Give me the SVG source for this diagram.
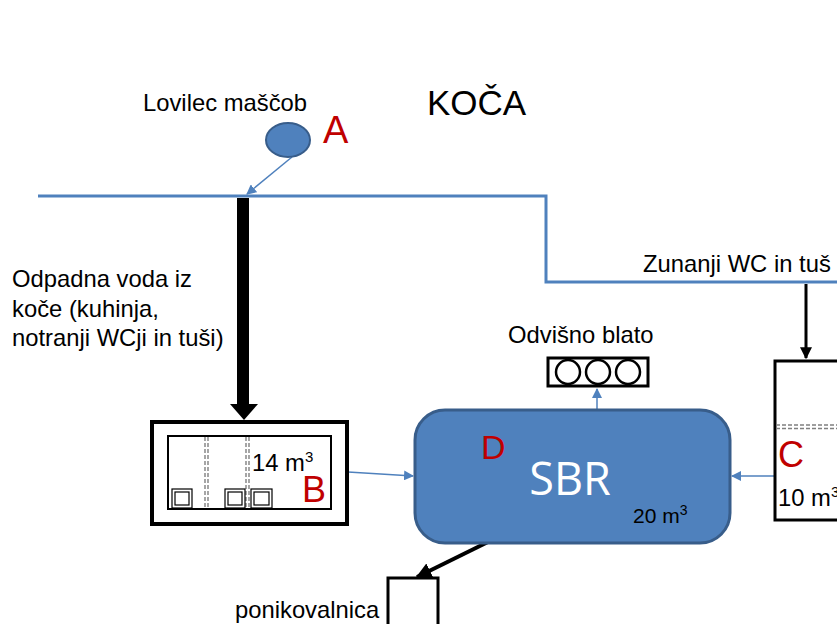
<svg xmlns="http://www.w3.org/2000/svg" width="837" height="624" viewBox="0 0 837 624">
<defs>
<style>
.t{font-family:"Liberation Sans",Arial,sans-serif;font-size:23.8px;fill:#000}
.red{font-family:"Liberation Sans",Arial,sans-serif;fill:#c00000}
.blk{fill:none;stroke:#000}
.pipe{fill:none;stroke:#4f81bd;stroke-width:3}
.bl{fill:none;stroke:#4f81bd;stroke-width:1.5}
.dash{stroke:#808080;stroke-width:1.4;stroke-dasharray:4 2;fill:none}
</style>
<marker id="ab" viewBox="0 0 10 10" refX="9" refY="5" markerWidth="10" markerHeight="10" markerUnits="userSpaceOnUse" orient="auto"><path d="M0,0L10,5L0,10z" fill="#4f81bd"/></marker>
<marker id="ak" viewBox="0 0 10 10" refX="9" refY="5" markerWidth="4" markerHeight="4" orient="auto"><path d="M0,0L10,5L0,10z" fill="#000"/></marker>
</defs>
<rect width="837" height="624" fill="#fff"/>
<text class="t" x="427" y="115" style="font-size:35px">KOČA</text>
<g id="connectors">
<polyline class="pipe" points="38,196 546,196 546,282 837,282"/>
<line class="bl" x1="292" y1="157" x2="247" y2="194" marker-end="url(#ab)"/>
<line x1="243" y1="198" x2="243" y2="405" stroke="#000" stroke-width="12"/>
<path d="M230,404L258,404L244,420z" fill="#000"/>
<line class="bl" x1="348" y1="472" x2="413" y2="476" marker-end="url(#ab)"/>
<line class="bl" x1="597" y1="409" x2="597" y2="389" marker-end="url(#ab)"/>
<line class="bl" x1="775" y1="476" x2="732" y2="476" marker-end="url(#ab)"/>
<line x1="806" y1="284" x2="806" y2="358" stroke="#000" stroke-width="3" marker-end="url(#ak)"/>
<line x1="492" y1="540" x2="417" y2="577" stroke="#000" stroke-width="4" marker-end="url(#ak)"/>
</g>
<g id="A">
<text class="t" x="143" y="111">Lovilec maščob</text>
<ellipse cx="288" cy="140" rx="22" ry="17" fill="#4f81bd" stroke="#385d8a" stroke-width="2"/>
<text class="red" x="323" y="143" font-size="38">A</text>
</g>
<g id="label-inside">
<text class="t"><tspan x="12" y="287">Odpadna voda iz</tspan><tspan x="12" y="317">koče (kuhinja,</tspan><tspan x="12" y="346">notranji WCji in tuši)</tspan></text>
</g>
<g id="B">
<rect class="blk" x="152" y="422" width="195" height="102" stroke-width="4"/>
<rect class="blk" x="168" y="436" width="163" height="73" stroke-width="2"/>
<line class="dash" x1="205" y1="437" x2="205" y2="508"/>
<line class="dash" x1="208" y1="437" x2="208" y2="508"/>
<line class="dash" x1="246" y1="437" x2="246" y2="508"/>
<line class="dash" x1="249" y1="437" x2="249" y2="508"/>
<rect class="blk" x="172" y="489" width="20" height="19" stroke-width="1.2"/>
<rect class="blk" x="175" y="492" width="14" height="13" stroke-width="1.2"/>
<rect class="blk" x="225" y="489" width="20" height="19" stroke-width="1.2"/>
<rect class="blk" x="228" y="492" width="14" height="13" stroke-width="1.2"/>
<rect class="blk" x="251" y="489" width="21" height="19" stroke-width="1.2"/>
<rect class="blk" x="254" y="492" width="15" height="13" stroke-width="1.2"/>
<text class="t" x="252" y="471">14 m<tspan dy="-9" font-size="15">3</tspan></text>
<text class="red" x="302" y="502" font-size="36">B</text>
</g>
<g id="D">
<rect x="415" y="410" width="315" height="133" rx="30" fill="#4f81bd" stroke="#385d8a" stroke-width="3"/>
<text class="red" x="481" y="459" font-size="34">D</text>
<text x="570" y="495" text-anchor="middle" font-family="'Open Sans',sans-serif" font-size="45" fill="#fff">SBR</text>
<text class="t" x="633" y="523" style="font-size:21px">20 m<tspan dy="-8" font-size="14">3</tspan></text>
</g>
<g id="sludge">
<text class="t" x="508" y="343">Odvišno blato</text>
<rect class="blk" x="548" y="358" width="100" height="28" stroke-width="3"/>
<circle class="blk" cx="568" cy="372" r="12" stroke-width="2.5"/>
<circle class="blk" cx="598" cy="372" r="12" stroke-width="2.5"/>
<circle class="blk" cx="628" cy="372" r="12" stroke-width="2.5"/>
</g>
<g id="C">
<text class="t" x="643" y="272">Zunanji WC in tuš</text>
<rect class="blk" x="775" y="361" width="80" height="159" stroke-width="3"/>
<line class="dash" x1="776" y1="425" x2="837" y2="425"/>
<line class="dash" x1="776" y1="428.5" x2="837" y2="428.5"/>
<text class="red" x="778" y="467" font-size="36">C</text>
<text class="t" x="778" y="506">10 m<tspan dy="-9" font-size="15">3</tspan></text>
</g>
<g id="ponikovalnica">
<rect class="blk" x="388" y="578" width="50" height="50" stroke-width="3"/>
<text class="t" x="235" y="618">ponikovalnica</text>
</g>
</svg>
